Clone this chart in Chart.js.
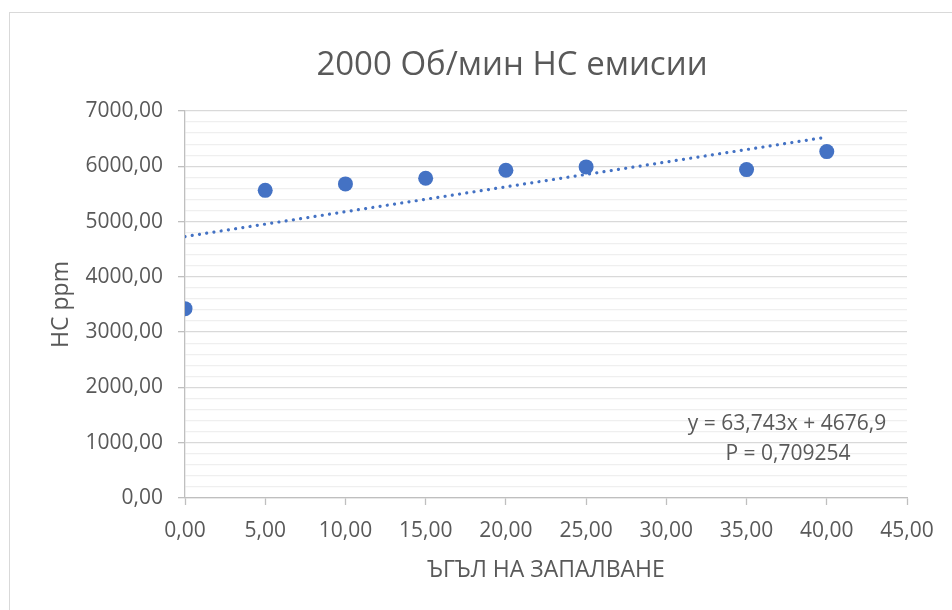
<!DOCTYPE html>
<html>
<head>
<meta charset="utf-8">
<script src="https://cdn.jsdelivr.net/npm/chart.js@4.4.1/dist/chart.umd.min.js"></script>
<style>
  html, body { margin: 0; padding: 0; background: #ffffff; overflow: hidden; }
  #frame {
    position: absolute; left: 9px; top: 12px;
    width: 1000px; height: 700px;
    border: 1px solid #d9d9d9; box-sizing: border-box;
  }
  #wrap { position: absolute; left: 0; top: 0; width: 952px; height: 610px; }
</style>
</head>
<body>
<div id="frame"></div>
<div id="wrap"><canvas id="chart" width="952" height="610"></canvas></div>
<script>
// Ignition angle (degrees) and measured HC emissions (ppm) at 2000 rpm
const angles = [0, 5, 10, 15, 20, 25, 35, 40];
const hcPpm = [3425, 5565, 5681, 5783, 5927, 5989, 5940, 6266];

// Axis ranges and label texts
const xMin = 0, xMax = 45, xStep = 5;
const yMin = 0, yMax = 7000, yMajor = 1000, yMinor = 200;
const chartTitle = '2000 Об/мин HC емисии';
const xTitle = 'ЪГЪЛ НА ЗАПАЛВАНЕ';
const yTitle = 'HC ppm';
const trendLabel = ['y = 63,743x + 4676,9', 'P = 0,709254'];

const FONT = "'Open Sans', 'Noto Sans', sans-serif";
const TEXT = '#595959';
const BLUE = '#4472c4';

// Least-squares linear trend over the measured points, spanning the data range
function linearFit(xs, ys) {
  const n = xs.length;
  const mx = xs.reduce((a, b) => a + b, 0) / n;
  const my = ys.reduce((a, b) => a + b, 0) / n;
  let sxy = 0, sxx = 0;
  for (let i = 0; i < n; i++) { sxy += (xs[i] - mx) * (ys[i] - my); sxx += (xs[i] - mx) ** 2; }
  const slope = sxy / sxx;
  return { slope, intercept: my - slope * mx };
}
const fit = linearFit(angles, hcPpm);
const xFirst = Math.min(...angles), xLast = Math.max(...angles);
const trendPoints = [
  { x: xFirst, y: fit.intercept + fit.slope * xFirst },
  { x: xLast, y: fit.intercept + fit.slope * xLast }
];

const fmt = v => v.toFixed(2).replace('.', ',');

// Chart title and trend equation text
const textPlugin = {
  id: 'texts',
  afterDraw(chart) {
    const ctx = chart.ctx;
    ctx.save();
    ctx.fillStyle = TEXT;
    ctx.textAlign = 'center';
    ctx.textBaseline = 'middle';
    ctx.font = `33px ${FONT}`;
    ctx.fillText(chartTitle, 512, 66);
    ctx.font = `21px ${FONT}`;
    ctx.fillText(trendLabel[0], 787, 424);
    ctx.fillText(trendLabel[1], 788, 454);
    ctx.restore();
  }
};

new Chart(document.getElementById('chart'), {
  data: {
    datasets: [
      {
        type: 'scatter',
        label: 'HC',
        data: angles.map((a, i) => ({ x: a, y: hcPpm[i] })),
        backgroundColor: BLUE,
        borderColor: BLUE,
        borderWidth: 0,
        pointRadius: 7.5,
        order: 1
      },
      {
        type: 'line',
        label: 'Trend',
        data: trendPoints,
        borderColor: BLUE,
        borderWidth: 3.2,
        borderDash: [0.01, 7.3],
        borderCapStyle: 'round',
        pointRadius: 0,
        fill: false,
        order: 2
      }
    ]
  },
  options: {
    responsive: false,
    animation: false,
    events: [],
    layout: { padding: { left: 0, top: 111, right: 45, bottom: 0 } },
    plugins: {
      legend: { display: false },
      title: { display: false },
      tooltip: { enabled: false }
    },
    scales: {
      x: {
        type: 'linear',
        min: xMin, max: xMax,
        afterFit(s) { s.height = 112; },
        border: { color: '#bfbfbf', width: 1.3 },
        grid: { drawOnChartArea: false, drawTicks: true, tickLength: 7, color: '#bfbfbf', tickColor: '#bfbfbf', tickWidth: 1.3 },
        ticks: {
          stepSize: xStep,
          color: TEXT,
          font: { family: FONT, size: 21 },
          padding: 13,
          maxRotation: 0,
          callback: v => fmt(v)
        },
        title: {
          display: true,
          text: xTitle,
          color: TEXT,
          font: { family: FONT, size: 23 },
          padding: { top: 0, bottom: 26 }
        }
      },
      y: {
        type: 'linear',
        min: yMin, max: yMax,
        afterFit(s) { s.width = 185; },
        border: { color: '#bfbfbf', width: 1.3 },
        grid: {
          drawTicks: true,
          tickLength: 7,
          lineWidth: 1.3,
          color: c => (c.tick && c.tick.value % yMajor === 0) ? '#d9d9d9' : '#efefef',
          tickColor: c => (c.tick && c.tick.value % yMajor === 0) ? '#bfbfbf' : 'rgba(0,0,0,0)'
        },
        ticks: {
          stepSize: yMinor,
          autoSkip: false,
          color: TEXT,
          font: { family: FONT, size: 21 },
          padding: 15,
          callback: v => (v % yMajor === 0 ? fmt(v) : '')
        },
        title: {
          display: true,
          text: yTitle,
          color: TEXT,
          font: { family: FONT, size: 23 },
          padding: { top: 48, bottom: 0 }
        }
      }
    }
  },
  plugins: [textPlugin]
});
</script>
</body>
</html>
